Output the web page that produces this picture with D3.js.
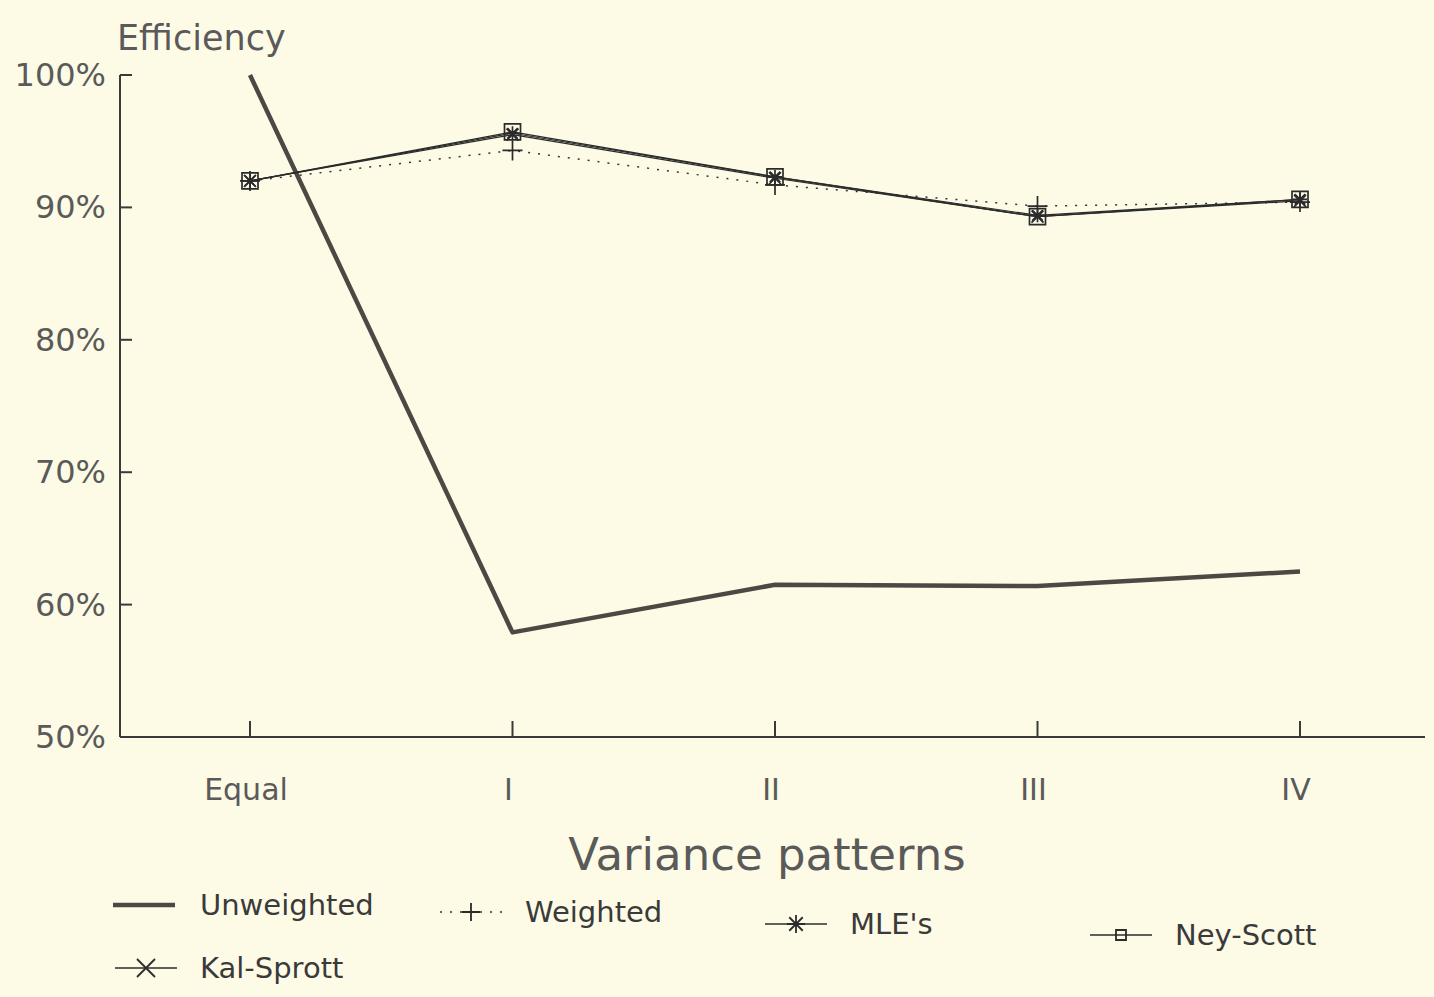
<!DOCTYPE html>
<html>
<head>
<meta charset="utf-8">
<title>Efficiency by variance pattern</title>
<script src="https://d3js.org/d3.v7.min.js"></script>
<style>
  body { margin: 0; background-color: #fdfbe6; }
  svg { display: block; }
  text { font-family: 'DejaVu Sans', sans-serif; fill: #3a3a3a; }
  .tick-label { font-size: 32px; fill: #5a5a5a; }
  .legend-text { font-size: 29px; fill: #3a3a3a; }
</style>
</head>
<body>
<div id="chart"></div>
<script>
var width = 1434;
var height = 997;

// categories on the x axis
var patterns = ["Equal", "I", "II", "III", "IV"];
// y ticks (%)
var yTicks = [50, 60, 70, 80, 90, 100];

// efficiency (%) per series
var unweighted = [100, 57.9, 61.5, 61.4, 62.5];
var weighted   = [92.0, 94.3, 91.7, 90.1, 90.4];
var mles       = [92.0, 95.6, 92.3, 89.4, 90.6];
var kalSprott  = [92.0, 95.5, 92.2, 89.3, 90.5];
var neyScott   = [92.0, 95.7, 92.3, 89.3, 90.6];

var svg = d3.select("#chart").append("svg")
  .attr("width", width).attr("height", height);

svg.append("rect").attr("width", width).attr("height", height).attr("fill", "#fdfbe6");

var x = d3.scalePoint().domain(patterns).range([250, 1300]);
var y = d3.scaleLinear().domain([50, 100]).range([737, 75]);

var axisX0 = 120, axisX1 = 1425;

// y axis line + inward ticks
svg.append("line")
  .attr("x1", axisX0).attr("x2", axisX0)
  .attr("y1", y(100)).attr("y2", y(50))
  .attr("stroke", "#3a3a3a").attr("stroke-width", 2);

yTicks.forEach(function(t) {
  svg.append("line")
    .attr("x1", axisX0).attr("x2", axisX0 + 12)
    .attr("y1", y(t)).attr("y2", y(t))
    .attr("stroke", "#3a3a3a").attr("stroke-width", 2);
  svg.append("text")
    .attr("class", "tick-label")
    .attr("x", 106).attr("y", y(t) + 11)
    .attr("text-anchor", "end")
    .text(t + "%");
});

// x axis line + upward ticks
svg.append("line")
  .attr("x1", axisX0).attr("x2", axisX1)
  .attr("y1", y(50)).attr("y2", y(50))
  .attr("stroke", "#3a3a3a").attr("stroke-width", 2);

patterns.forEach(function(p) {
  svg.append("line")
    .attr("x1", x(p)).attr("x2", x(p))
    .attr("y1", y(50)).attr("y2", y(50) - 16)
    .attr("stroke", "#3a3a3a").attr("stroke-width", 2);
  svg.append("text")
    .attr("class", "tick-label")
    .attr("x", x(p) - 4).attr("y", 800)
    .attr("text-anchor", "middle")
    .style("font-size", "30px")
    .text(p);
});

// axis titles
svg.append("text")
  .attr("x", 117).attr("y", 50)
  .style("font-size", "35px").style("fill", "#5a5a5a")
  .text("Efficiency");

svg.append("text")
  .attr("x", 767).attr("y", 870)
  .attr("text-anchor", "middle")
  .style("font-size", "45px").style("fill", "#5a5a5a")
  .text("Variance patterns");

// marker shapes
function markerPath(type, s) {
  if (type === "plus") return "M" + (-s) + ",0H" + s + "M0," + (-s) + "V" + s;
  if (type === "x") return "M" + (-s) + "," + (-s) + "L" + s + "," + s + "M" + (-s) + "," + s + "L" + s + "," + (-s);
  if (type === "star") return markerPath("plus", s) + markerPath("x", s * 0.75);
  if (type === "square") return "M" + (-s) + "," + (-s) + "H" + s + "V" + s + "H" + (-s) + "Z";
  return "";
}

var series = [
  { name: "Unweighted", values: unweighted, stroke: "#4d4843", width: 4.5, dash: null, marker: null, size: 0 },
  { name: "Weighted", values: weighted, stroke: "#333", width: 1.5, dash: "2,8", marker: "plus", size: 10 },
  { name: "MLE's", values: mles, stroke: "#2b2b2b", width: 1.2, dash: null, marker: "star", size: 7 },
  { name: "Kal-Sprott", values: kalSprott, stroke: "#2b2b2b", width: 1.2, dash: null, marker: "x", size: 6 },
  { name: "Ney-Scott", values: neyScott, stroke: "#2b2b2b", width: 1.4, dash: null, marker: "square", size: 8 }
];

var line = d3.line()
  .x(function(d, i) { return x(patterns[i]); })
  .y(function(d) { return y(d); });

series.forEach(function(s) {
  svg.append("path")
    .datum(s.values)
    .attr("d", line)
    .attr("fill", "none")
    .attr("stroke", s.stroke)
    .attr("stroke-width", s.width)
    .attr("stroke-dasharray", s.dash)
    .attr("stroke-linejoin", "round");

  if (s.marker) {
    svg.selectAll(null)
      .data(s.values)
      .enter()
      .append("path")
      .attr("transform", function(d, i) { return "translate(" + x(patterns[i]) + "," + y(d) + ")"; })
      .attr("d", markerPath(s.marker, s.size))
      .attr("fill", "none")
      .attr("stroke", "#2b2b2b")
      .attr("stroke-width", 1.7);
  }
});

// legend
var legendPos = [
  { x: 113, y: 905 },
  { x: 440, y: 912 },
  { x: 765, y: 924 },
  { x: 115, y: 968 },
  { x: 1090, y: 935 }
];

series.forEach(function(s, i) {
  var p = legendPos[i];
  var g = svg.append("g").attr("transform", "translate(" + p.x + "," + p.y + ")");
  g.append("line")
    .attr("x1", 0).attr("x2", 62)
    .attr("stroke", s.stroke)
    .attr("stroke-width", i === 0 ? s.width : 1.6)
    .attr("stroke-dasharray", s.dash);
  if (s.marker) {
    g.append("path")
      .attr("transform", "translate(31,0)")
      .attr("d", markerPath(s.marker, s.marker === "square" ? 5 : 9))
      .attr("fill", "none")
      .attr("stroke", "#2b2b2b")
      .attr("stroke-width", 1.8);
  }
  g.append("text")
    .attr("class", "legend-text")
    .attr("x", i === 0 ? 87 : 85)
    .attr("y", 10)
    .text(s.name);
});
</script>
</body>
</html>
